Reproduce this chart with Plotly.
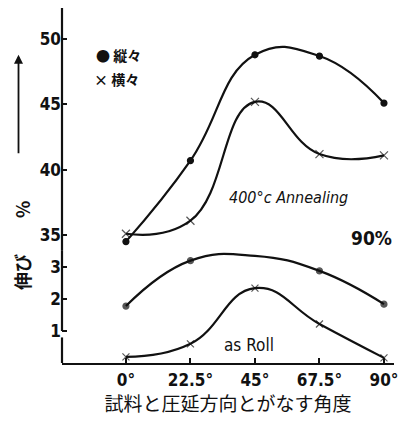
import plotly.graph_objects as go

angles = [0, 22.5, 45, 67.5, 90]
tick_labels = ["0°", "22.5°", "45°", "67.5°", "90°"]

# 400°C annealing (upper section, %)
ann_long = [34.5, 40.7, 48.8, 48.7, 45.1]   # 縦々
ann_trans = [35.1, 36.1, 45.2, 41.2, 41.1]  # 横々
# as rolled (lower section, %)
roll_long = [1.78, 3.2, 3.35, 2.88, 1.84]
roll_trans = [0.19, 0.6, 2.34, 1.22, 0.16]

upper_ticks = [35, 40, 45, 50]
lower_ticks = [1, 2, 3]

ink = "#111111"
narrow = "DejaVu Sans Condensed, Liberation Sans Narrow, sans-serif"
tickfont = dict(family=narrow, size=17, color=ink, weight=600)

fig = go.Figure()

def add(y, sym, yaxis, sizes=None):
    fig.add_trace(go.Scatter(
        x=angles, y=y, yaxis=yaxis, mode="lines+markers",
        line=dict(color=ink, width=2.2, shape="spline", smoothing=1.3),
        marker=dict(symbol=sym, size=sizes if sizes else 6, color=ink,
                    line=dict(width=1.2, color=ink)),
        cliponaxis=False, showlegend=False))

add(ann_long, "circle", "y")
add(ann_trans, "x-thin", "y", [8] * 5)
add(roll_long, "circle", "y2", [6, 6, 0, 6, 6])
add(roll_trans, "x-thin", "y2", [7] * 5)

fig.update_layout(
    width=398, height=423,
    margin=dict(l=62, r=0, t=8, b=60),
    paper_bgcolor="white", plot_bgcolor="white",
    xaxis=dict(range=[-22.3, 93.5], tickvals=angles, ticktext=tick_labels,
               anchor="y2", ticklabeloverflow="allow",
               showline=True, linecolor=ink, linewidth=2.2,
               ticks="inside", ticklen=5, tickwidth=1.5, tickcolor=ink,
               showgrid=False, zeroline=False, tickfont=tickfont,
               title=dict(text="試料と圧延方向とがなす角度",
                          font=dict(family="Noto Sans CJK JP", size=19, color=ink),
                          standoff=4)),
    yaxis=dict(domain=[0.318, 1], range=[33.85, 52.38], tickvals=upper_ticks,
               anchor="x",
               ticks="inside", ticklen=5, tickwidth=1.5, tickcolor=ink,
               showgrid=False, zeroline=False, showline=False, tickfont=tickfont),
    yaxis2=dict(domain=[0, 0.318], range=[0, 3.53], tickvals=lower_ticks,
                anchor="x",
                ticks="inside", ticklen=5, tickwidth=1.5, tickcolor=ink,
                showgrid=False, zeroline=False, showline=False, tickfont=tickfont),
)

# broken y axis line
fig.add_shape(type="line", xref="paper", yref="y", x0=0, x1=0, y0=33.85, y1=52.38,
              line=dict(color=ink, width=2.2))
fig.add_shape(type="line", xref="paper", yref="y2", x0=0, x1=0, y0=1.0, y1=3.53,
              line=dict(color=ink, width=2.2))
fig.add_shape(type="line", xref="paper", yref="y2", x0=0, x1=0, y0=0, y1=0.8,
              line=dict(color=ink, width=2.2))

hand = dict(family=narrow, color=ink)

fig.add_annotation(text="伸び　　%", xref="paper", yref="paper", x=-0.12, y=0.33,
                   xanchor="center", yanchor="middle",
                   textangle=-90, showarrow=False,
                   font=dict(family="Noto Sans CJK JP", size=18, color=ink, weight=700))
fig.add_annotation(text="", xref="paper", yref="paper", x=-0.131, y=0.868,
                   ax=0, ay=100, axref="pixel", ayref="pixel",
                   showarrow=True, arrowhead=2, arrowwidth=1.8, arrowcolor=ink)
fig.add_annotation(text="● 縦々", xref="paper", yref="paper", x=0.095, y=0.901,
                   xanchor="left", showarrow=False,
                   font=dict(family="Noto Sans CJK JP", size=14, color=ink, weight=700))
fig.add_annotation(text="× 横々", xref="paper", yref="paper", x=0.09, y=0.834,
                   xanchor="left", showarrow=False,
                   font=dict(family="Noto Sans CJK JP", size=14, color=ink, weight=700))
fig.add_annotation(text="400°c Annealing", x=45, y=37.9, xref="x", yref="y",
                   xanchor="left", showarrow=False,
                   font=dict(size=16, style="italic", **hand), xshift=-28)
fig.add_annotation(text="90%", x=93.5, y=34.8, xref="x", yref="y",
                   xanchor="right", showarrow=False, font=dict(size=19, weight=700, **hand))
fig.add_annotation(text="as Roll", x=43, y=0.55, xref="x", yref="y2",
                   showarrow=False, font=dict(size=17, **hand))

fig.write_html("out.html")
